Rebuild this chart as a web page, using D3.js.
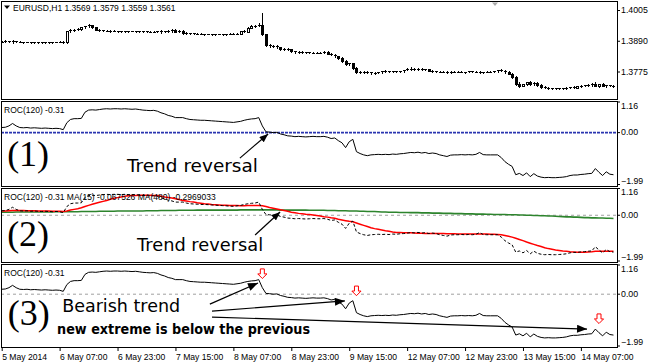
<!DOCTYPE html>
<html><head><meta charset="utf-8">
<script src="https://cdn.jsdelivr.net/npm/d3@7"></script>
<style>
body{margin:0;background:#fff}
svg{display:block}
</style></head><body>
<svg id="c" width="650" height="364"></svg>
<script>
// ---------------- DATA ----------------
const open=[
1.3885,1.3887,1.3888,1.3886,1.3889,1.3887,1.3886,1.3885,1.3886,1.3885,
1.3884,1.3885,1.3884,1.3885,1.3884,1.3885,1.3886,1.3887,1.3884,1.3925,
1.3930,1.3932,1.3934,1.3941,1.3944,1.3948,1.3940,1.3932,1.3930,1.3928,
1.3927,1.3926,1.3927,1.3925,1.3926,1.3925,1.3926,1.3927,1.3925,1.3924,
1.3925,1.3923,1.3924,1.3923,1.3927,1.3922,1.3926,1.3927,1.3929,1.3924,
1.3927,1.3918,1.3917,1.3918,1.3916,1.3917,1.3915,1.3916,1.3915,1.3914,
1.3915,1.3916,1.3914,1.3915,1.3917,1.3916,1.3917,1.3925,1.3924,1.3938,
1.3946,1.3947,1.3949,1.3914,1.3873,1.3869,1.3870,1.3867,1.3859,1.3861,
1.3858,1.3850,1.3848,1.3849,1.3846,1.3847,1.3845,1.3846,1.3844,1.3845,
1.3849,1.3841,1.3838,1.3832,1.3826,1.3815,1.3803,1.3805,1.3788,1.3772,
1.3775,1.3772,1.3774,1.3768,1.3770,1.3773,1.3776,1.3775,1.3777,1.3774,
1.3776,1.3777,1.3781,1.3785,1.3784,1.3786,1.3783,1.3781,1.3784,1.3778,
1.3776,1.3775,1.3774,1.3775,1.3773,1.3774,1.3775,1.3774,1.3773,1.3774,
1.3776,1.3775,1.3774,1.3773,1.3774,1.3775,1.3774,1.3776,1.3779,1.3777,
1.3772,1.3767,1.3755,1.3728,1.3722,1.3727,1.3734,1.3728,1.3733,1.3725,
1.3718,1.3714,1.3712,1.3713,1.3712,1.3711,1.3713,1.3714,1.3716,1.3715,
1.3720,1.3722,1.3724,1.3723,1.3728,1.3722,1.3727,1.3721,1.3723,1.3720];
const high=[
1.3889,1.3891,1.3889,1.3892,1.3890,1.3888,1.3887,1.3887,1.3887,1.3886,
1.3886,1.3886,1.3886,1.3886,1.3886,1.3887,1.3888,1.3889,1.3928,1.3933,
1.3934,1.3937,1.3943,1.3947,1.3951,1.3949,1.3941,1.3934,1.3932,1.3930,
1.3929,1.3929,1.3928,1.3927,1.3927,1.3927,1.3928,1.3928,1.3926,1.3926,
1.3926,1.3925,1.3925,1.3928,1.3932,1.3927,1.3929,1.3934,1.3933,1.3932,
1.3930,1.3921,1.3920,1.3919,1.3918,1.3918,1.3917,1.3917,1.3917,1.3916,
1.3917,1.3917,1.3916,1.3918,1.3919,1.3918,1.3926,1.3929,1.3940,1.3948,
1.3950,1.3958,1.3994,1.3916,1.3878,1.3874,1.3873,1.3868,1.3863,1.3862,
1.3859,1.3852,1.3851,1.3850,1.3849,1.3848,1.3848,1.3847,1.3847,1.3851,
1.3850,1.3845,1.3840,1.3834,1.3828,1.3817,1.3808,1.3806,1.3790,1.3778,
1.3777,1.3776,1.3775,1.3772,1.3774,1.3777,1.3779,1.3778,1.3778,1.3777,
1.3778,1.3782,1.3787,1.3790,1.3788,1.3789,1.3787,1.3786,1.3785,1.3780,
1.3778,1.3777,1.3776,1.3777,1.3776,1.3776,1.3777,1.3776,1.3775,1.3777,
1.3778,1.3777,1.3776,1.3775,1.3776,1.3777,1.3777,1.3781,1.3783,1.3780,
1.3776,1.3769,1.3757,1.3734,1.3730,1.3737,1.3738,1.3736,1.3735,1.3727,
1.3720,1.3716,1.3715,1.3715,1.3714,1.3714,1.3716,1.3718,1.3719,1.3722,
1.3724,1.3726,1.3727,1.3731,1.3734,1.3730,1.3731,1.3725,1.3725,1.3724];
const low=[
1.3884,1.3885,1.3884,1.3883,1.3885,1.3884,1.3883,1.3884,1.3883,1.3883,
1.3883,1.3882,1.3883,1.3883,1.3883,1.3884,1.3885,1.3883,1.3882,1.3923,
1.3928,1.3930,1.3932,1.3939,1.3942,1.3938,1.3930,1.3928,1.3926,1.3925,
1.3924,1.3925,1.3924,1.3923,1.3924,1.3923,1.3925,1.3924,1.3923,1.3922,
1.3922,1.3922,1.3921,1.3922,1.3920,1.3921,1.3924,1.3924,1.3922,1.3922,
1.3914,1.3915,1.3915,1.3914,1.3914,1.3914,1.3913,1.3914,1.3913,1.3913,
1.3914,1.3913,1.3913,1.3914,1.3915,1.3914,1.3916,1.3922,1.3923,1.3936,
1.3943,1.3944,1.3910,1.3870,1.3865,1.3866,1.3864,1.3857,1.3856,1.3856,
1.3848,1.3846,1.3845,1.3845,1.3844,1.3844,1.3843,1.3843,1.3843,1.3843,
1.3840,1.3836,1.3830,1.3823,1.3812,1.3800,1.3799,1.3786,1.3768,1.3769,
1.3770,1.3768,1.3766,1.3766,1.3768,1.3771,1.3773,1.3772,1.3773,1.3772,
1.3773,1.3775,1.3779,1.3782,1.3780,1.3781,1.3779,1.3779,1.3776,1.3774,
1.3773,1.3772,1.3772,1.3771,1.3771,1.3772,1.3772,1.3772,1.3771,1.3772,
1.3773,1.3772,1.3771,1.3771,1.3772,1.3773,1.3772,1.3774,1.3776,1.3770,
1.3765,1.3752,1.3725,1.3716,1.3719,1.3724,1.3725,1.3724,1.3722,1.3715,
1.3712,1.3709,1.3709,1.3710,1.3709,1.3709,1.3710,1.3712,1.3713,1.3714,
1.3717,1.3719,1.3720,1.3720,1.3719,1.3718,1.3719,1.3718,1.3719,1.3718];
const close=[
1.3887,1.3888,1.3886,1.3889,1.3887,1.3886,1.3885,1.3886,1.3885,1.3884,
1.3885,1.3884,1.3885,1.3884,1.3885,1.3886,1.3887,1.3884,1.3925,1.3930,
1.3932,1.3934,1.3941,1.3944,1.3948,1.3940,1.3932,1.3930,1.3928,1.3927,
1.3926,1.3927,1.3925,1.3926,1.3925,1.3926,1.3927,1.3925,1.3924,1.3925,
1.3923,1.3924,1.3923,1.3927,1.3922,1.3926,1.3927,1.3929,1.3924,1.3927,
1.3918,1.3917,1.3918,1.3916,1.3917,1.3915,1.3916,1.3915,1.3914,1.3915,
1.3916,1.3914,1.3915,1.3917,1.3916,1.3917,1.3925,1.3924,1.3938,1.3946,
1.3947,1.3949,1.3914,1.3873,1.3869,1.3870,1.3867,1.3859,1.3861,1.3858,
1.3850,1.3848,1.3849,1.3846,1.3847,1.3845,1.3846,1.3844,1.3845,1.3849,
1.3841,1.3838,1.3832,1.3826,1.3815,1.3803,1.3805,1.3788,1.3772,1.3775,
1.3772,1.3774,1.3768,1.3770,1.3773,1.3776,1.3775,1.3777,1.3774,1.3776,
1.3777,1.3781,1.3785,1.3784,1.3786,1.3783,1.3781,1.3784,1.3778,1.3776,
1.3775,1.3774,1.3775,1.3773,1.3774,1.3775,1.3774,1.3773,1.3774,1.3776,
1.3775,1.3774,1.3773,1.3774,1.3775,1.3774,1.3776,1.3779,1.3777,1.3772,
1.3767,1.3755,1.3728,1.3722,1.3727,1.3734,1.3728,1.3733,1.3725,1.3718,
1.3714,1.3712,1.3713,1.3712,1.3711,1.3713,1.3714,1.3716,1.3715,1.3720,
1.3722,1.3724,1.3723,1.3728,1.3722,1.3727,1.3721,1.3723,1.3720,1.3722];
const roc=[
0.19,0.20,0.25,0.34,0.25,0.19,0.18,0.19,0.17,0.18,
0.17,0.16,0.17,0.16,0.15,0.16,0.15,0.11,0.37,0.49,
0.52,0.52,0.53,0.76,0.84,0.85,0.84,0.86,0.88,0.89,
0.88,0.89,0.89,0.88,0.89,0.88,0.87,0.88,0.86,0.84,
0.83,0.82,0.83,0.80,0.74,0.70,0.64,0.61,0.56,0.56,
0.56,0.52,0.49,0.48,0.47,0.46,0.46,0.45,0.44,0.43,
0.42,0.41,0.40,0.39,0.38,0.40,0.42,0.46,0.49,0.51,
0.52,0.56,0.25,0.03,0.02,0.00,0.01,-0.05,-0.08,-0.12,
-0.13,-0.15,-0.14,-0.15,-0.16,-0.15,-0.14,-0.15,-0.15,-0.14,
-0.17,-0.22,-0.20,-0.30,-0.38,-0.56,-0.34,-0.25,-0.71,-0.78,
-0.83,-0.86,-0.83,-0.82,-0.81,-0.82,-0.81,-0.82,-0.80,-0.81,
-0.79,-0.78,-0.76,-0.74,-0.75,-0.73,-0.76,-0.74,-0.78,-0.76,
-0.78,-0.83,-0.86,-0.89,-0.84,-0.83,-0.83,-0.82,-0.83,-0.82,
-0.83,-0.81,-0.74,-0.82,-0.83,-0.83,-0.83,-0.83,-0.93,-1.08,
-1.18,-1.26,-1.57,-1.52,-1.60,-1.50,-1.64,-1.53,-1.62,-1.66,
-1.68,-1.67,-1.68,-1.68,-1.67,-1.66,-1.64,-1.60,-1.58,-1.58,
-1.56,-1.55,-1.53,-1.52,-1.34,-1.48,-1.60,-1.46,-1.55,-1.57];
const ma15=[
0.18,0.18,0.19,0.20,0.20,0.20,0.20,0.19,0.19,0.19,
0.18,0.18,0.18,0.18,0.17,0.17,0.17,0.16,0.18,0.22,
0.25,0.28,0.32,0.37,0.42,0.47,0.51,0.55,0.59,0.63,
0.68,0.72,0.75,0.78,0.81,0.83,0.84,0.84,0.85,0.85,
0.85,0.85,0.84,0.84,0.81,0.78,0.76,0.73,0.70,0.67,
0.63,0.61,0.58,0.56,0.53,0.51,0.49,0.48,0.46,0.45,
0.44,0.43,0.43,0.42,0.41,0.41,0.40,0.40,0.41,0.41,
0.42,0.42,0.40,0.37,0.33,0.30,0.27,0.23,0.20,0.17,
0.13,0.11,0.08,0.06,0.04,0.03,0.01,-0.01,-0.03,-0.06,
-0.08,-0.11,-0.13,-0.17,-0.20,-0.23,-0.26,-0.28,-0.33,-0.38,
-0.43,-0.48,-0.53,-0.57,-0.60,-0.63,-0.66,-0.68,-0.71,-0.73,
-0.73,-0.74,-0.75,-0.75,-0.76,-0.77,-0.77,-0.78,-0.78,-0.78,
-0.78,-0.78,-0.78,-0.79,-0.79,-0.79,-0.80,-0.80,-0.80,-0.80,
-0.80,-0.80,-0.80,-0.80,-0.80,-0.81,-0.81,-0.82,-0.83,-0.86,
-0.89,-0.93,-0.98,-1.03,-1.08,-1.14,-1.19,-1.24,-1.29,-1.33,
-1.38,-1.42,-1.45,-1.48,-1.50,-1.52,-1.53,-1.55,-1.56,-1.57,
-1.57,-1.57,-1.56,-1.55,-1.53,-1.53,-1.53,-1.53,-1.53,-1.53];
const ma480=[
0.13,0.13,0.13,0.13,0.14,0.14,0.14,0.14,0.14,0.14,
0.14,0.14,0.14,0.14,0.14,0.15,0.15,0.15,0.15,0.15,
0.15,0.15,0.16,0.16,0.16,0.16,0.16,0.17,0.17,0.17,
0.17,0.17,0.18,0.18,0.18,0.18,0.18,0.18,0.18,0.18,
0.19,0.19,0.19,0.19,0.20,0.20,0.20,0.20,0.20,0.21,
0.21,0.21,0.21,0.21,0.22,0.22,0.22,0.22,0.22,0.22,
0.22,0.22,0.22,0.22,0.22,0.22,0.23,0.23,0.23,0.23,
0.23,0.23,0.23,0.23,0.23,0.23,0.23,0.22,0.22,0.22,
0.22,0.22,0.22,0.22,0.22,0.21,0.21,0.21,0.21,0.21,
0.20,0.20,0.20,0.19,0.19,0.19,0.18,0.18,0.18,0.17,
0.17,0.16,0.16,0.16,0.15,0.14,0.14,0.13,0.13,0.13,
0.12,0.12,0.12,0.11,0.11,0.11,0.10,0.10,0.10,0.09,
0.09,0.09,0.08,0.08,0.08,0.07,0.07,0.07,0.06,0.06,
0.06,0.05,0.05,0.05,0.04,0.04,0.03,0.03,0.03,0.03,
0.02,0.02,0.02,0.01,0.01,0.00,0.00,-0.01,-0.01,-0.02,
-0.02,-0.03,-0.03,-0.04,-0.05,-0.06,-0.07,-0.07,-0.08,-0.08,
-0.09,-0.10,-0.10,-0.11,-0.11,-0.12,-0.12,-0.13,-0.13,-0.14];
const priceTicks=[1.4005,1.3890,1.3775];
const oscTicks=[1.16,0.00,-1.99];
const xTickBars=[0,16,32,48,64,80,96,112,128,144,160];
const xTickLabels=["5 May 2014","6 May 07:00","6 May 23:00","7 May 15:00","8 May 07:00","8 May 23:00","9 May 15:00","12 May 07:00","12 May 23:00","13 May 15:00","14 May 07:00"];
const signalBars=[72,98,165];
const signalLevels=[0.78,0.12,-0.95];
const headerMain="EURUSD,H1  1.3569 1.3579 1.3559 1.3561";
const headerRoc="ROC(120) -0.31";
const headerRocMa="ROC(120) -0.31 MA(15) -0.067526 MA(480) -0.2969033";

// ---------------- LAYOUT ----------------
const sans='"Liberation Sans",Arial,sans-serif';
const serif='"Liberation Serif","Times New Roman",serif';
const deja='"DejaVu Sans",Verdana,sans-serif';
const svg=d3.select('#c');
const L=1,R=617;
const x=d3.scaleLinear().domain([0,169]).range([1.7,1.7+169*3.62]);
const mainP={top:1,bottom:99};
const yP=d3.scaleLinear().domain([1.4005,1.3775]).range([10,71.5]);
const osc=[
 {top:101,bottom:185.5,range:[186,101.5]},
 {top:187.5,bottom:262,range:[262,188]},
 {top:264,bottom:347,range:[346,264]}
];
osc.forEach(p=>p.y=d3.scaleLinear().domain([-1.99,1.16]).range(p.range));

const defs=svg.append('defs');
function clip(id,top,bottom){
  defs.append('clipPath').attr('id',id).append('rect')
   .attr('x',L+1).attr('y',top+1).attr('width',R-L-1).attr('height',bottom-top-1);
}
clip('cm',mainP.top,mainP.bottom);
osc.forEach((p,i)=>clip('c'+i,p.top,p.bottom));
function mk(id,w,h){
  defs.append('marker').attr('id',id).attr('viewBox','0 0 10 8').attr('refX',10).attr('refY',4)
   .attr('markerWidth',w).attr('markerHeight',h).attr('markerUnits','userSpaceOnUse').attr('orient','auto')
   .append('path').attr('d','M0,0L10,4L0,8Z').attr('fill','#000');
}
mk('ah',9,7); mk('ah2',11,8);

function frame(top,bottom){
  svg.append('rect').attr('x',L+0.5).attr('y',top+0.5).attr('width',R-L).attr('height',bottom-top)
   .attr('fill','#fff').attr('stroke','#000').attr('shape-rendering','crispEdges');
}
frame(mainP.top,mainP.bottom);
osc.forEach(p=>frame(p.top,p.bottom));

// ---------------- MAIN PRICE PANEL ----------------
const gm=svg.append('g').attr('clip-path','url(#cm)').attr('shape-rendering','crispEdges');
const bars=d3.range(close.length);
const cx=i=>Math.round(x(i));
const cg=gm.selectAll('g.cd').data(bars).join('g');
cg.append('line').attr('x1',i=>cx(i)+0.5).attr('x2',i=>cx(i)+0.5)
  .attr('y1',i=>Math.round(yP(high[i]))).attr('y2',i=>Math.round(yP(low[i]))+1).attr('stroke','#000');
cg.each(function(i){
  const g=d3.select(this);
  const yt=Math.round(yP(Math.max(open[i],close[i]))), yb=Math.round(yP(Math.min(open[i],close[i])));
  if(yb-yt<2){
    g.append('line').attr('x1',cx(i)-1).attr('x2',cx(i)+2).attr('y1',yt+0.5).attr('y2',yt+0.5).attr('stroke','#000');
  } else {
    g.append('rect').attr('x',cx(i)-0.5).attr('y',yt+0.5).attr('width',2).attr('height',yb-yt)
     .attr('fill',close[i]>=open[i]?'#fff':'#000').attr('stroke','#000');
  }
});

const ax1=svg.append('g').attr('transform',`translate(${R},0)`)
  .call(d3.axisRight(yP).tickValues(priceTicks).tickSize(3).tickFormat(d3.format('.4f')));
ax1.select('.domain').remove();
ax1.selectAll('text').attr('x',4).style('font-size','8.8px').style('font-family',sans).attr('fill','#000');
ax1.selectAll('line').attr('stroke','#000');

svg.append('path').attr('d','M4,5.5L10,5.5L7,9Z').attr('fill','#000');
svg.append('text').attr('x',13).attr('y',10.5).style('font-size','8.5px').style('font-family',sans).text(headerMain);
svg.append('path').attr('d','M492,2.5L498,2.5L495,6Z').attr('fill','#aaa');

// ---------------- OSCILLATOR PANELS ----------------
const line=y=>d3.line().x((d,i)=>x(i)).y(d=>y(d));
osc.forEach((p,k)=>{
  const g=svg.append('g').attr('clip-path',`url(#c${k})`);
  if(k===0){
    g.append('line').attr('x1',L).attr('x2',R).attr('y1',p.y(0)).attr('y2',p.y(0))
     .attr('stroke','#2a35b0').attr('stroke-width',1.8).attr('stroke-dasharray','3,1');
    g.append('path').attr('d',line(p.y)(roc)).attr('fill','none').attr('stroke','#000').attr('stroke-width',1);
  } else {
    g.append('line').attr('x1',L).attr('x2',R).attr('y1',p.y(0)).attr('y2',p.y(0))
     .attr('stroke','#a0a0a0').attr('stroke-width',1).attr('stroke-dasharray','3,3');
  }
  if(k===1){
    g.append('path').attr('d',line(p.y)(ma480)).attr('fill','none').attr('stroke','#2d842d').attr('stroke-width',1.6);
    g.append('path').attr('d',line(p.y)(ma15)).attr('fill','none').attr('stroke','#ff0000').attr('stroke-width',1.5);
    g.append('path').attr('d',line(p.y)(roc)).attr('fill','none').attr('stroke','#000').attr('stroke-width',1).attr('stroke-dasharray','3,2');
  }
  if(k===2){
    g.append('path').attr('d',line(p.y)(roc)).attr('fill','none').attr('stroke','#000').attr('stroke-width',1);
    g.selectAll('path.sig').data(signalBars).join('path').attr('class','sig')
     .attr('d',(b,j)=>{const sx=x(b),sy=p.y(signalLevels[j]);
        return `M${sx-2},${sy-5}h4v5h2.6l-4.6,4.6l-4.6,-4.6h2.6z`;})
     .attr('fill','#fff').attr('stroke','#ff0000').attr('stroke-width',1);
  }
  const clampL=v=>Math.max(p.top+5,Math.min(p.bottom-4.5,p.y(v)));
  const clampT=v=>Math.max(p.top+1,Math.min(p.bottom-1,p.y(v)));
  const ax=svg.append('g').attr('transform',`translate(${R},0)`)
    .call(d3.axisRight(p.y).tickValues(oscTicks).tickSize(3).tickFormat(d3.format('.2f')));
  ax.select('.domain').remove();
  ax.selectAll('.tick').attr('transform',d=>`translate(0,${clampL(d)})`);
  ax.selectAll('.tick line').attr('stroke','#000')
    .attr('y1',d=>clampT(d)-clampL(d)).attr('y2',d=>clampT(d)-clampL(d));
  ax.selectAll('text').attr('x',4).style('font-size','8.8px').style('font-family',sans).attr('fill','#000');
  svg.append('text').attr('x',4).attr('y',p.top+12).style('font-size','8.5px').style('font-family',sans)
    .text(k===1?headerRocMa:headerRoc);
});

// ---------------- ANNOTATIONS ----------------
function label(k,bar,val,txt,size,family,weight,len){
  const t=svg.append('text').attr('x',x(bar)).attr('y',osc[k].y(val))
   .style('font-size',size+'px').style('font-family',family).style('font-weight',weight||'normal')
   .attr('fill','#000').text(txt);
  if(len) t.attr('textLength',len).attr('lengthAdjust','spacingAndGlyphs');
}
function arrow(k,b1,v1,b2,v2,m){
  svg.append('line').attr('x1',x(b1)).attr('y1',osc[k].y(v1)).attr('x2',x(b2)).attr('y2',osc[k].y(v2))
   .attr('stroke','#000').attr('stroke-width',1.2).attr('marker-end',`url(#${m||'ah'})`);
}
label(0,1.5,-1.26,'(1)',36,serif);
label(0,34.6,-1.46,'Trend reversal',18,deja,'normal',131);
arrow(0,65.8,-0.95,73.6,-0.05);
label(1,1.5,-1.29,'(2)',36,serif);
label(1,37.4,-1.54,'Trend reversal',18,deja,'normal',126);
arrow(1,70,-0.84,76.9,0.14);
label(2,1.7,-1.20,'(3)',36,serif);
label(2,16.7,-0.67,'Bearish trend',18,deja,'normal',118);
label(2,15.3,-1.53,'new extreme is below the previous',14,deja,'bold',253);
arrow(2,57.5,-0.38,70.8,0.43,'ah2');
arrow(2,58.1,-0.65,94.8,-0.26,'ah2');
arrow(2,58.1,-0.88,161.7,-1.34,'ah2');

// ---------------- X AXIS ----------------
const xa=svg.append('g').attr('transform',`translate(0,${osc[2].bottom})`)
  .call(d3.axisBottom(x).tickValues(xTickBars).tickSize(4).tickFormat((d,i)=>xTickLabels[i]));
xa.select('.domain').remove();
xa.selectAll('line').attr('stroke','#000');
xa.selectAll('text').attr('text-anchor','start').attr('x',0).attr('y',12.5).attr('dy',0)
  .style('font-size','8.6px').style('font-family',sans).attr('fill','#000');
</script>
</body></html>
